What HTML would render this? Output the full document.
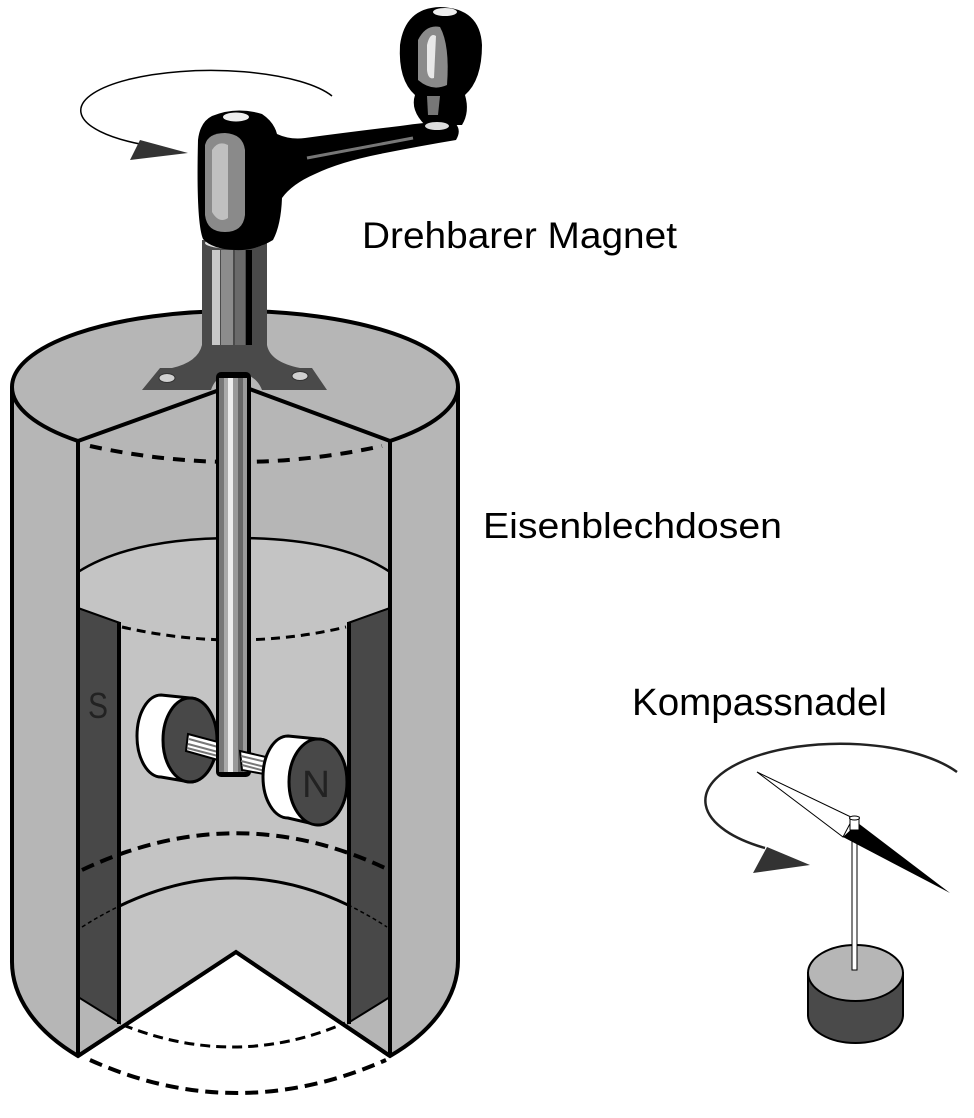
<!DOCTYPE html>
<html><head><meta charset="utf-8">
<style>
html,body{margin:0;padding:0;background:#fff;}
svg{display:block;}
text{font-family:"Liberation Sans",Arial,sans-serif;}
</style></head>
<body>
<svg width="974" height="1118" viewBox="0 0 974 1118" xmlns="http://www.w3.org/2000/svg">
<defs>
  <clipPath id="mid"><rect x="120" y="0" width="228" height="1118"/></clipPath>
</defs>

<!-- outer cylinder silhouette -->
<path d="M12,387 A223,76 0 0 1 458,387 L458,960 A223,133 0 0 1 390,1056 L236,952 L78,1056 A223,133 0 0 1 12,960 Z" fill="#b6b6b6" stroke="#000" stroke-width="4"/>

<!-- inner can interior (light stipple) -->
<path d="M78,572 C120,545 180,538 236,538 C292,538 350,545 390,572 L390,997 L348,1023 L348,1029 L236,952 L120,1029 L120,1023 L78,997 Z" fill="#c4c4c4"/>
<path d="M78,572 C120,545 180,538 236,538 C292,538 350,545 390,572" fill="none" stroke="#000" stroke-width="2.5"/>

<!-- dark wall panels -->
<path d="M78,608 L120,623 L120,1023 L78,997 Z" fill="#484848" stroke="#000" stroke-width="2"/>
<path d="M390,608 L348,623 L348,1023 L390,997 Z" fill="#484848" stroke="#000" stroke-width="2"/>
<line x1="119" y1="622" x2="119" y2="1024" stroke="#000" stroke-width="4"/>
<line x1="349" y1="622" x2="349" y2="1024" stroke="#000" stroke-width="4"/>
<text x="88" y="718" font-size="36" fill="#222" textLength="20" lengthAdjust="spacingAndGlyphs">S</text>

<!-- dashed lines -->
<path d="M90,446 Q236,478 382,446" fill="none" stroke="#000" stroke-width="4" stroke-dasharray="12 9"/>
<path d="M122,627 Q236,653 346,627" fill="none" stroke="#000" stroke-width="3" stroke-dasharray="9 6"/>
<path d="M82,870 Q236,797 387,869" fill="none" stroke="#000" stroke-width="4" stroke-dasharray="13 7"/>
<path d="M82,927 Q236,829 387,927" fill="none" stroke="#000" stroke-width="1.5" stroke-dasharray="4 3"/>
<path d="M82,927 Q236,829 387,927" fill="none" stroke="#000" stroke-width="3" clip-path="url(#mid)"/>
<path d="M123,1025 Q236,1070 345,1023" fill="none" stroke="#000" stroke-width="3" stroke-dasharray="10 6"/>
<path d="M90,1060 Q236,1126 386,1060" fill="none" stroke="#000" stroke-width="4" stroke-dasharray="13 7"/>

<!-- cut lines -->
<path d="M78,441 L78,1056 M390,441 L390,1056" stroke="#000" stroke-width="4" fill="none"/>
<path d="M78,441 L236,384 L390,441" stroke="#000" stroke-width="4" fill="none" stroke-linejoin="round"/>
<path d="M78,1056 L236,952 L390,1056" stroke="#000" stroke-width="4" fill="none"/>
<path d="M12,387 A223,76 0 0 0 78,441 M390,441 A223,76 0 0 0 458,387" stroke="#000" stroke-width="4" fill="none"/>

<!-- stand -->
<path d="M202,240 L267,240 L267,345 Q270,362 300,368 L312,368 L327,390 L262,390 Q256,374 236,372 Q216,374 211,390 L142,390 L160,368 L172,368 Q198,362 202,345 Z" fill="#4a4a4a"/>
<rect x="212" y="250" width="8" height="95" fill="#c8c8c8"/>
<rect x="221" y="250" width="12" height="95" fill="#8c8c8c"/>
<rect x="235" y="250" width="10" height="95" fill="#6a6a6a"/>
<rect x="246" y="250" width="6" height="95" fill="#000"/>
<ellipse cx="167" cy="378" rx="8" ry="4.5" fill="#d0d0d0" stroke="#333" stroke-width="1"/>
<ellipse cx="300" cy="376" rx="8" ry="4.5" fill="#d0d0d0" stroke="#333" stroke-width="1"/>
<ellipse cx="235" cy="243" rx="30" ry="6" fill="#e0e0e0"/>

<!-- left magnet -->
<path d="M161,695 L190,698 A27,42 0 0 1 190,782 L161,777 A24,41 0 0 1 161,695 Z" fill="#fff" stroke="#000" stroke-width="3"/>
<ellipse cx="190" cy="740" rx="27" ry="42" fill="#484848" stroke="#000" stroke-width="3"/>
<polygon points="188,734 218,742 218,760 186,751" fill="#fff" stroke="#000" stroke-width="2"/>
<path d="M189,739 L218,747 M188,744 L218,752 M187,748 L218,756" stroke="#777" stroke-width="2"/>

<!-- rod -->
<rect x="216" y="372" width="35" height="405" rx="5" fill="#000"/>
<rect x="219" y="378" width="5" height="394" fill="#777"/>
<rect x="224" y="378" width="4" height="394" fill="#aaa"/>
<rect x="228" y="378" width="5" height="394" fill="#eee"/>
<rect x="233" y="378" width="5" height="394" fill="#999"/>
<rect x="238" y="378" width="5" height="394" fill="#666"/>
<rect x="243" y="378" width="4" height="394" fill="#999"/>

<!-- right magnet -->
<polygon points="240,751 266,757 264,774 242,770" fill="#fff" stroke="#000" stroke-width="2"/>
<path d="M241,756 L266,762 M241,761 L265,767 M242,765 L265,771" stroke="#777" stroke-width="2"/>
<path d="M288,736 L318,739 A29,43 0 0 1 318,825 L288,818 A25,41 0 0 1 288,736 Z" fill="#fff" stroke="#000" stroke-width="3"/>
<ellipse cx="318" cy="782" rx="29" ry="43" fill="#484848" stroke="#000" stroke-width="3"/>
<text x="302" y="797" font-size="38" fill="#222" textLength="28" lengthAdjust="spacingAndGlyphs">N</text>

<!-- crank handle -->
<path d="M198,140 Q200,122 212,116 Q236,106 262,114 Q274,122 277,134 Q290,140 305,138 Q350,132 400,126 Q440,120 455,123 Q462,130 456,140 Q420,146 380,154 Q340,162 315,174 Q292,184 282,198 Q281,225 273,240 Q255,251 235,250 Q212,249 203,239 Q196,222 198,140 Z" fill="#000"/>
<path d="M205,145 Q208,133 225,133 Q243,134 245,150 L245,215 Q243,232 225,232 Q207,232 205,215 Z" fill="#8a8a8a"/>
<path d="M212,150 Q218,140 228,145 L228,218 Q219,224 212,212 Z" fill="#c0c0c0"/>
<ellipse cx="236" cy="117" rx="13" ry="4.5" fill="#eee"/>
<path d="M307,158 L413,138" stroke="#777" stroke-width="3"/>
<path d="M425,125 Q410,110 415,95 Q398,80 400,45 Q405,8 440,7 Q480,8 482,45 Q482,80 465,95 Q470,112 462,125 Z" fill="#000"/>
<path d="M418,40 Q426,24 440,27 Q450,45 447,85 Q432,92 418,80 Z" fill="#8a8a8a"/>
<path d="M427,45 Q430,32 436,36 L434,78 Q428,80 427,70 Z" fill="#e8e8e8"/>
<path d="M427,96 L440,96 L438,115 L428,115 Z" fill="#777"/>
<ellipse cx="445" cy="12" rx="12" ry="4" fill="#eee"/>
<ellipse cx="437" cy="126" rx="12" ry="4" fill="#ddd"/>

<!-- rotation arrow (top) -->
<path d="M332,96 A130,40 0 1 0 140,144" fill="none" stroke="#000" stroke-width="1.5"/>
<polygon points="130,160 140,140 188,153" fill="#333"/>

<!-- labels -->
<text x="362" y="248" font-size="37" fill="#000" textLength="315" lengthAdjust="spacingAndGlyphs">Drehbarer Magnet</text>
<text x="483" y="538" font-size="36" fill="#000" textLength="299" lengthAdjust="spacingAndGlyphs">Eisenblechdosen</text>
<text x="632" y="715" font-size="38" fill="#000" textLength="255" lengthAdjust="spacingAndGlyphs">Kompassnadel</text>

<!-- compass -->
<path d="M957,772 A135,57 0 1 0 765,848" fill="none" stroke="#222" stroke-width="2.5"/>
<polygon points="753,873 767,847 810,865" fill="#333"/>
<path d="M808,973 L808,1015 A47.5,28 0 0 0 903,1015 L903,973 Z" fill="#4a4a4a" stroke="#000" stroke-width="2"/>
<ellipse cx="855.5" cy="973" rx="47.5" ry="28" fill="#b6b6b6" stroke="#000" stroke-width="2"/>
<rect x="852" y="834" width="5" height="136" fill="#fff" stroke="#000" stroke-width="1"/>
<polygon points="757,772 853,818 843,837" fill="#fff" stroke="#000" stroke-width="1"/>
<polygon points="843,837 858,823 950,893" fill="#000"/>
<rect x="850" y="817" width="9" height="13" fill="#fff" stroke="#000" stroke-width="1"/>
<ellipse cx="854.5" cy="818" rx="5" ry="2" fill="#fff" stroke="#000" stroke-width="1"/>
</svg>
</body></html>
